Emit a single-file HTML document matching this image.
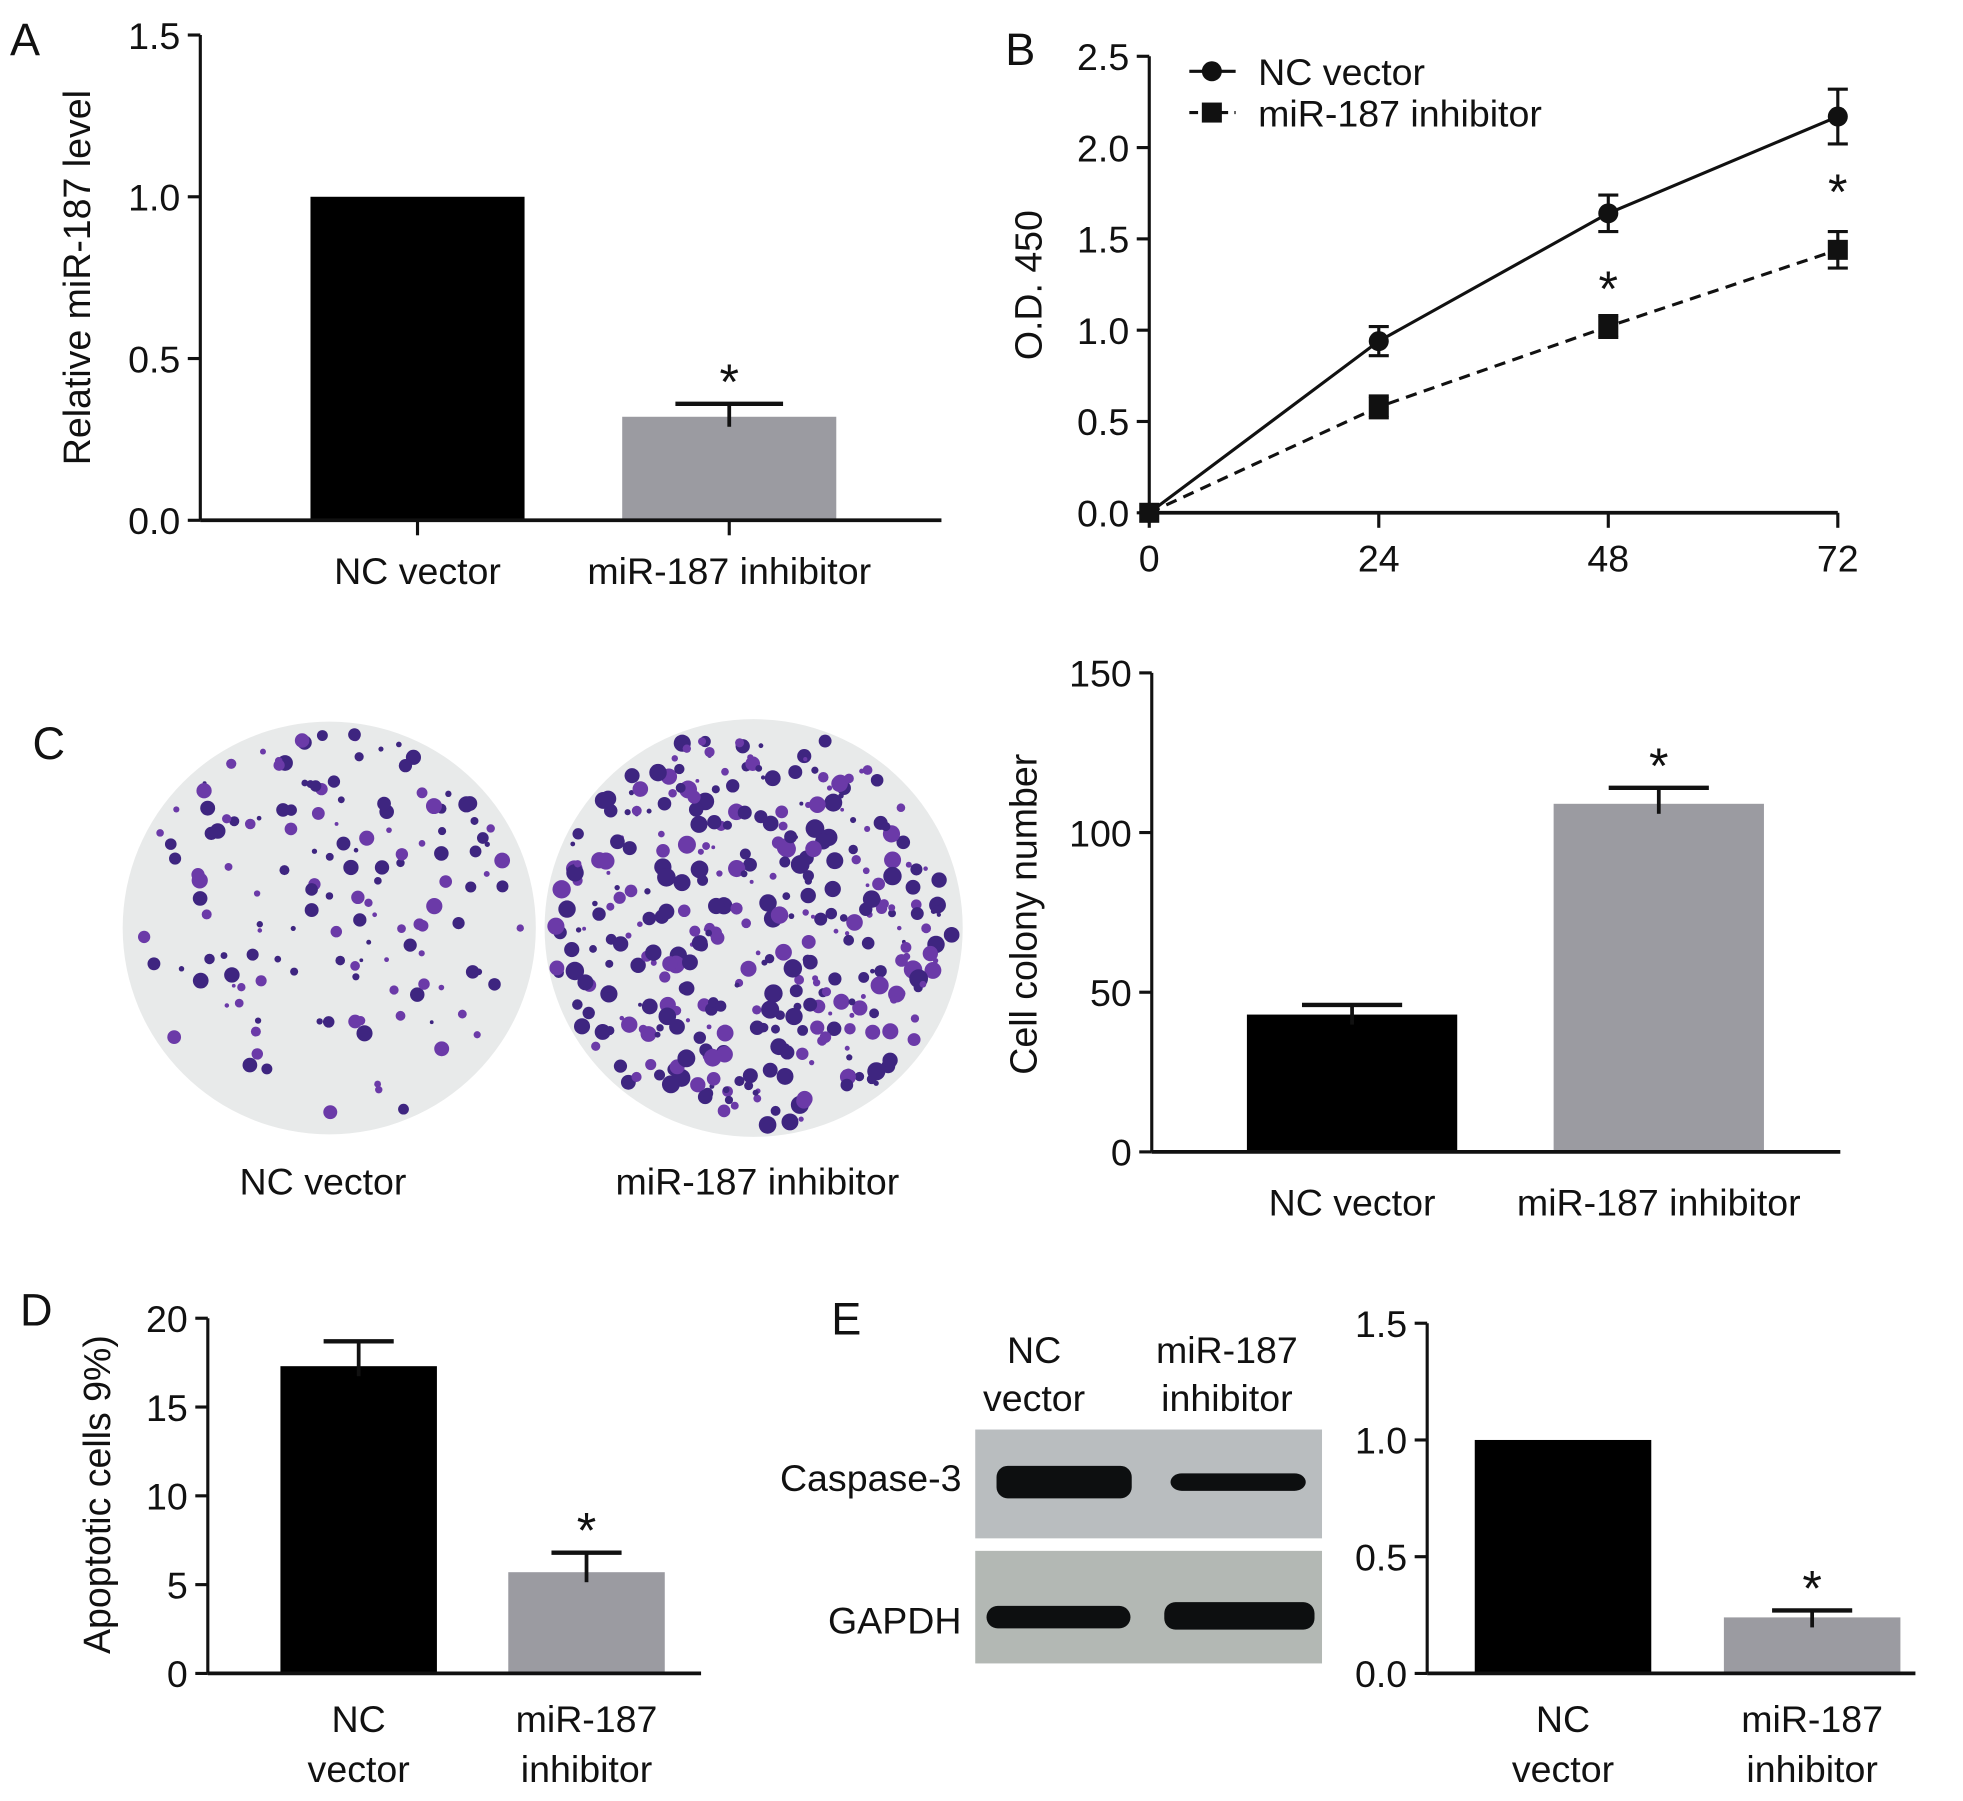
<!DOCTYPE html>
<html><head><meta charset="utf-8"><style>
html,body{margin:0;padding:0;background:#fff;}
svg{display:block;font-family:"Liberation Sans",Arial,sans-serif;}
</style></head><body>
<svg id="fig" width="1963" height="1801" viewBox="0 0 1568 1440" preserveAspectRatio="none" xmlns="http://www.w3.org/2000/svg">
<g id="root"></g>
</svg>
<script>
// Panel A data
const aCats = ["NC vector", "miR-187 inhibitor"];
const aVals = [1.0, 0.32];
const aErr = [0, 0.04];
const aTicks = [0, 0.5, 1.0, 1.5];
// Panel B data
const bX = [0, 24, 48, 72];
const bNC = [0, 0.94, 1.64, 2.17];
const bNCErr = [0, 0.08, 0.1, 0.15];
const bInh = [0, 0.58, 1.02, 1.44];
const bInhErr = [0, 0.06, 0.06, 0.1];
const bTicks = [0, 0.5, 1.0, 1.5, 2.0, 2.5];
const bStars = [false, false, true, true];
// Panel C data
const cCats = ["NC vector", "miR-187 inhibitor"];
const cVals = [43, 109];
const cErr = [3, 5];
const cTicks = [0, 50, 100, 150];
// Panel D data
const dCats = [["NC","vector"], ["miR-187","inhibitor"]];
const dVals = [17.3, 5.7];
const dErr = [1.4, 1.1];
const dTicks = [0, 5, 10, 15, 20];
// Panel E data
const eCats = [["NC","vector"], ["miR-187","inhibitor"]];
const eVals = [1.0, 0.24];
const eErr = [0, 0.03];
const eTicks = [0, 0.5, 1.0, 1.5];

const FS = 30;
const NS = "http://www.w3.org/2000/svg";
const root = document.getElementById("root");
function el(tag, attrs, parent, text) {
  const e = document.createElementNS(NS, tag);
  for (const k in attrs) e.setAttribute(k, attrs[k]);
  if (text !== undefined) e.textContent = text;
  (parent || root).appendChild(e);
  return e;
}
function txt(x, y, s, size, anchor, parent, name) {
  const t = el("text", {x: x, y: y, "font-size": size, "text-anchor": anchor || "middle", fill: "#111"}, parent, s);
  
  
  return t;
}

function barChart(o) {
  const g = el("g", {});
  
  
  const y = v => o.y0 - (v - o.min) / (o.max - o.min) * (o.y0 - o.y1);
  const ax = el("line", {x1: o.ax, y1: o.y1, x2: o.ax, y2: o.y0, stroke: "#111", "stroke-width": 2.5}, g);
  
  
  o.ticks.forEach(t => {
    const tk = el("line", {x1: o.ax - 10, y1: y(t), x2: o.ax, y2: y(t), stroke: "#111", "stroke-width": 2.5}, g);
    
    
    txt(o.ax - 16, y(t) + 11, o.fmt(t), FS, "end", g, 'y-tick-label');
  });
  const tt = el("text", {x: 0, y: 0, "font-size": FS, "text-anchor": "middle", fill: "#111",
    transform: `translate(${o.titleX},${o.titleY}) rotate(-90)`}, g, o.title);
  
  
  o.vals.forEach((v, i) => {
    const x = o.barX[i];
    const r = el("rect", {x: x, y: y(v), width: o.barW, height: o.y0 - y(v), fill: i === 0 ? "#000" : "#9b9ba1"}, g);
    
    
    const cx = x + o.barW / 2;
    if (o.err[i] > 0) {
      const ey = y(v + o.err[i]);
      const e1 = el("line", {x1: cx, y1: y(v) + 8, x2: cx, y2: ey, stroke: "#111", "stroke-width": 3}, g);
      
      
      const e2 = el("line", {x1: cx - o.capW, y1: ey, x2: cx + o.capW, y2: ey, stroke: "#111", "stroke-width": 3.5}, g);
      
      
      if (i === 1) txt(cx, ey - 4, "*", 40, "middle", g, 'significance-star');
    }
    if (o.xticks) {
      const xt = el("line", {x1: cx, y1: o.y0, x2: cx, y2: o.y0 + 12, stroke: "#111", "stroke-width": 2.5}, g);
      
      
    }
    const lab = o.cats[i];
    if (Array.isArray(lab)) {
      txt(cx, o.y0 + 47, lab[0], FS, "middle", g, 'x-tick-label');
      txt(cx, o.y0 + 87, lab[1], FS, "middle", g, 'x-tick-label');
    } else txt(cx, o.y0 + 51, lab, FS, "middle", g, 'x-tick-label');
  });
  const xa = el("line", {x1: o.ax, y1: o.y0, x2: o.axEnd, y2: o.y0, stroke: "#111", "stroke-width": 3}, g);
  
  
}

const f1 = t => t.toFixed(1), f0 = t => String(t);
[["A",8,44],["B",803,52],["C",26,607],["D",16,1060],["E",664,1067]].forEach(p => txt(p[1], p[2], p[0], 36, "start", root, 'panel-label-' + p[0].toLowerCase()));

barChart({name: "panel-a-chart", ax: 160, y0: 416, y1: 28, min: 0, max: 1.5, ticks: aTicks, fmt: f1,
  title: "Relative miR-187 level", titleX: 72, titleY: 222, vals: aVals, err: aErr, cats: aCats,
  barX: [248, 497], barW: 171, capW: 43, axEnd: 752, xticks: true});
barChart({name: "panel-c-chart", ax: 920, y0: 921, y1: 538, min: 0, max: 150, ticks: cTicks, fmt: f0,
  title: "Cell colony number", titleX: 828, titleY: 731, vals: cVals, err: cErr, cats: cCats,
  barX: [996, 1241], barW: 168, capW: 40, axEnd: 1470, xticks: false});
barChart({name: "panel-d-chart", ax: 166, y0: 1338, y1: 1054, min: 0, max: 20, ticks: dTicks, fmt: f0,
  title: "Apoptotic cells 9%)", titleX: 88, titleY: 1195, vals: dVals, err: dErr, cats: dCats,
  barX: [224, 406], barW: 125, capW: 28, axEnd: 560, xticks: false});
barChart({name: "panel-e-chart", ax: 1140, y0: 1338, y1: 1058, min: 0, max: 1.5, ticks: eTicks, fmt: f1,
  title: "", titleX: 0, titleY: 0, vals: eVals, err: eErr, cats: eCats,
  barX: [1178, 1377], barW: 141, capW: 32, axEnd: 1530, xticks: false});

(function(){
  const g = el("g", {});
  
  
  const X0 = 918, X1 = 1468, Y0 = 410, Y1 = 45;
  const xs = v => X0 + v / 72 * (X1 - X0);
  const ys = v => Y0 - v / 2.5 * (Y0 - Y1);
  const ya = el("line", {x1: X0, y1: Y1, x2: X0, y2: Y0, stroke: "#111", "stroke-width": 2.5}, g);
  
  
  const xa = el("line", {x1: X0, y1: Y0, x2: X1, y2: Y0, stroke: "#111", "stroke-width": 3}, g);
  
  
  bTicks.forEach(t => {
    const tk = el("line", {x1: X0 - 10, y1: ys(t), x2: X0, y2: ys(t), stroke: "#111", "stroke-width": 2.5}, g);
    
    
    txt(X0 - 16, ys(t) + 11, t.toFixed(1), FS, "end", g, 'y-tick-label');
  });
  bX.forEach(v => {
    const tk = el("line", {x1: xs(v), y1: Y0, x2: xs(v), y2: Y0 + 12, stroke: "#111", "stroke-width": 2.5}, g);
    
    
    txt(xs(v), Y0 + 47, String(v), FS, "middle", g, 'x-tick-label');
  });
  const tt = el("text", {"font-size": FS, "text-anchor": "middle", fill: "#111", transform: `translate(832,228) rotate(-90)`}, g, "O.D. 450");
  
  
  function series(vals, errs, dash, marker, name) {
    const pts = vals.map((v, i) => xs(bX[i]) + "," + ys(v)).join(" ");
    const pl = el("polyline", {points: pts, fill: "none", stroke: "#111", "stroke-width": 2.5, "stroke-dasharray": dash}, g);
    
    
    vals.forEach((v, i) => {
      const cx = xs(bX[i]), cy = ys(v);
      if (errs[i] > 0) {
        const e = el("path", {d: `M${cx},${ys(v+errs[i])}V${ys(v-errs[i])}M${cx-8},${ys(v+errs[i])}h16M${cx-8},${ys(v-errs[i])}h16`, stroke: "#111", "stroke-width": 2.5, fill: "none"}, g);
        
        
      }
      const m = marker === "c" ? el("circle", {cx: cx, cy: cy, r: 8, fill: "#111"}, g)
                                : el("rect", {x: cx - 8, y: cy - 8, width: 16, height: 16, fill: "#111"}, g);
      
      
    });
  }
  series(bInh, bInhErr, "9,6", "s", "inhibitor");
  series(bNC, bNCErr, "", "c", "nc-vector");
  bStars.forEach((s, i) => { if (s) txt(xs(bX[i]), ys(bNC[i]) + 74, "*", 40, "middle", g, 'significance-star'); });
  const l1 = el("line", {x1: 950, y1: 57, x2: 987, y2: 57, stroke: "#111", "stroke-width": 2.5}, g);
  
  
  const lc = el("circle", {cx: 968, cy: 57, r: 8, fill: "#111"}, g);
  
  
  txt(1005, 68, "NC vector", FS, "start", g, 'legend-entry');
  const l2 = el("line", {x1: 950, y1: 90, x2: 987, y2: 90, stroke: "#111", "stroke-width": 2.5, "stroke-dasharray": "7,5"}, g);
  
  
  const ls = el("rect", {x: 960, y: 82, width: 16, height: 16, fill: "#111"}, g);
  
  
  txt(1005, 101, "miR-187 inhibitor", FS, "start", g, 'legend-entry');
})();

(function(){
  let seed = 7;
  const rnd = () => { seed = (seed * 16807) % 2147483647; return seed / 2147483647; };
  [[263, 742, 165, 150, "plate-nc-vector"], [602, 742, 167, 380, "plate-mir-187-inhibitor"]].forEach(p => {
    const g = el("g", {});
    
    
    const c = el("circle", {cx: p[0], cy: p[1], r: p[2], fill: "#e8eaea"}, g);
    
    
    for (let k = 0; k < p[3]; k++) {
      const a = rnd() * Math.PI * 2, rr = Math.sqrt(rnd()) * (p[2] - 6);
      const d = el("circle", {cx: p[0] + Math.cos(a) * rr, cy: p[1] + Math.sin(a) * rr, r: 1.5 + rnd() * (p[3] > 200 ? 6 : 5), fill: rnd() > 0.5 ? "#3e2580" : "#6b3aa8"}, g);
      
      
    }
  });
  txt(258, 955, "NC vector", FS, "middle", root, 'plate-label');
  txt(605, 955, "miR-187 inhibitor", FS, "middle", root, 'plate-label');
})();

(function(){
  const g = el("g", {});
  
  
  const s1 = el("rect", {x: 779, y: 1143, width: 277, height: 87, fill: "#b9bdbf"}, g);
  
  
  const s2 = el("rect", {x: 779, y: 1240, width: 277, height: 90, fill: "#b3b8b4"}, g);
  
  
  [[796, 1172, 108, 26], [935, 1178, 108, 14], [788, 1284, 115, 18], [930, 1281, 120, 22]].forEach(b => {
    const r = el("rect", {x: b[0], y: b[1], width: b[2], height: b[3], rx: 9, fill: "#0d0f10"}, g);
    
    
  });
  txt(826, 1090, "NC", FS, "middle", g, 'lane-label');
  txt(826, 1128, "vector", FS, "middle", g, 'lane-label');
  txt(980, 1090, "miR-187", FS, "middle", g, 'lane-label');
  txt(980, 1128, "inhibitor", FS, "middle", g, 'lane-label');
  txt(768, 1192, "Caspase-3", FS, "end", g, 'protein-label');
  txt(768, 1306, "GAPDH", FS, "end", g, 'protein-label');
})();
</script>
</body></html>
